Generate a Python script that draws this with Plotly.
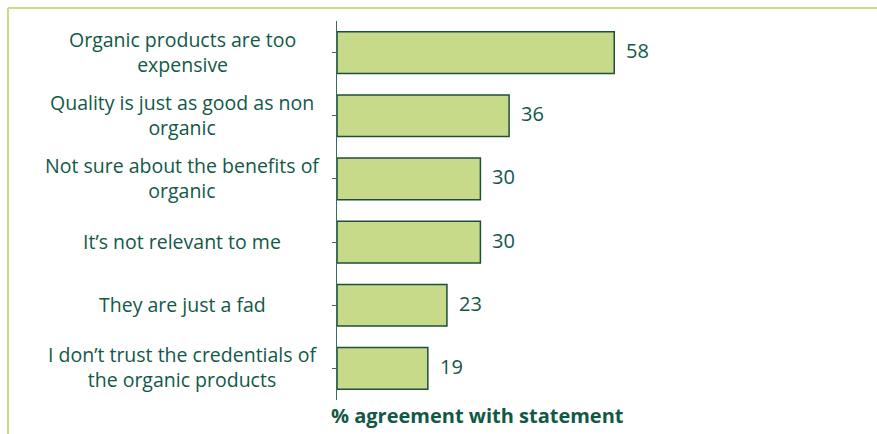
import plotly.graph_objects as go

categories = [
    "Organic products are too<br>expensive",
    "Quality is just as good as non<br>organic",
    "Not sure about the benefits of<br>organic",
    "It\u2019s not relevant to me",
    "They are just a fad",
    "I don\u2019t trust the credentials of<br>the organic products",
]
values = [58, 36, 30, 30, 23, 19]
axis_title = "% agreement with statement"

W, H = 877, 434
L, R, T, B = 337, 20, 21, 34
pw = W - L - R
ph = H - T - B
scale = 4.78
xmax = pw / scale

text_col = "#125847"
frame_col = "#c8dc8c"
font_fam = "Open Sans, Lato, sans-serif"

fig = go.Figure()
fig.add_trace(go.Bar(
    y=list(range(len(categories))), x=values, orientation="h",
    marker=dict(color="#c6da8a", line=dict(color="#1d4f3c", width=1.5)),
    width=0.66, hoverinfo="skip",
))

ann = []
for i, (c, v) in enumerate(zip(categories, values)):
    ann.append(dict(x=(182 - L) / pw, xref="paper", y=i, yref="y", yshift=1, text=c,
                    showarrow=False, xanchor="center", yanchor="middle", align="center",
                    font=dict(size=19.5, color=text_col, family=font_fam)))
    ann.append(dict(x=v, xref="x", y=i, yref="y", text=str(v), showarrow=False,
                    xanchor="left", yanchor="middle", xshift=10, yshift=2,
                    font=dict(size=20, color=text_col, family=font_fam)))
ann.append(dict(x=(329 - L) / pw, xref="paper", y=-(415 - (H - B)) / ph, yref="paper",
                text="<b>" + axis_title + "</b>", showarrow=False, xanchor="left",
                yanchor="middle", font=dict(size=20, color=text_col, family=font_fam)))

px = lambda p: (p - L) / pw
py = lambda p: (H - B - p) / ph
shapes = [
    dict(type="line", xref="paper", yref="paper", x0=px(8), x1=px(W + 5), y0=py(8), y1=py(8),
         line=dict(color=frame_col, width=2)),
    dict(type="line", xref="paper", yref="paper", x0=px(8), x1=px(8), y0=py(8), y1=py(H + 5),
         line=dict(color=frame_col, width=2)),
]

fig.update_layout(
    width=W, height=H, margin=dict(l=L, r=R, t=T, b=B),
    paper_bgcolor="white", plot_bgcolor="white", showlegend=False,
    annotations=ann, shapes=shapes,
    xaxis=dict(range=[0, xmax], visible=False, showgrid=False, zeroline=False),
    yaxis=dict(range=[5.5, -0.5], tickmode="array", tickvals=list(range(len(categories))),
               showticklabels=False, tickson="boundaries", ticks="outside", ticklen=4,
               tickcolor="#3a6b5a", showline=True, linecolor="#3a6b5a", linewidth=1,
               showgrid=False, zeroline=False),
)
fig.write_html("out.html")
